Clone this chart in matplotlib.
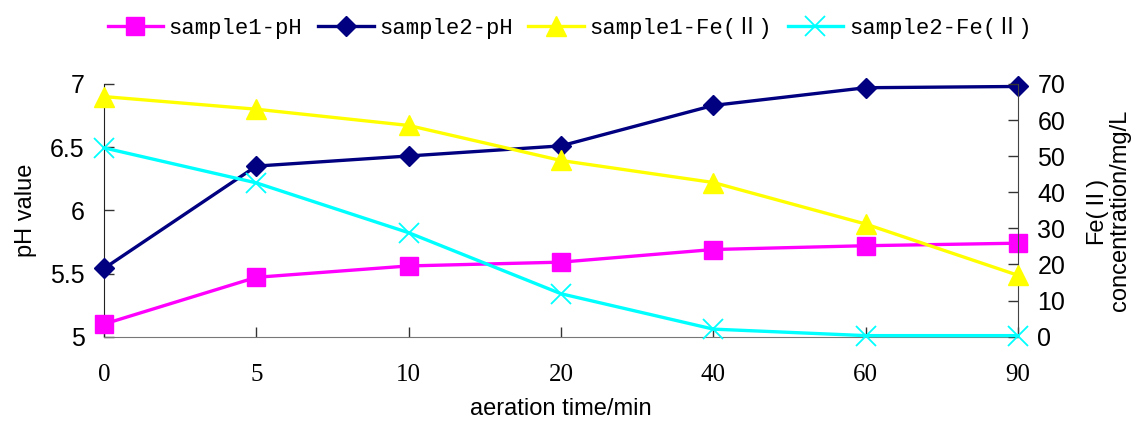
import matplotlib
matplotlib.use("Agg")
import matplotlib.pyplot as plt
from matplotlib.ticker import FuncFormatter

# aeration time (min) - plotted as evenly spaced categories
times = ["0", "5", "10", "20", "40", "60", "90"]

ph_sample1 = [5.10, 5.47, 5.56, 5.59, 5.69, 5.72, 5.74]
ph_sample2 = [5.54, 6.35, 6.43, 6.51, 6.83, 6.97, 6.98]
fe_sample1 = [66.5, 63.0, 58.5, 48.8, 42.7, 31.2, 17.0]
fe_sample2 = [52.3, 42.6, 28.8, 11.9, 2.1, 0.3, 0.3]

plt.rcParams['font.family'] = ['Liberation Sans', 'Noto Sans CJK SC', 'DejaVu Sans']

fig = plt.figure(figsize=(11.39, 4.22), dpi=100)
ax = fig.add_axes([0.0913, 0.2021, 0.8025, 0.599])
ax2 = ax.twinx()

x = list(range(len(times)))
l1, = ax.plot(x, ph_sample1, color='#FF00FF', lw=2.4, marker='s', ms=13.5,
              mec='#FF00FF', label='sample1-pH', clip_on=False, zorder=3)
l2, = ax.plot(x, ph_sample2, color='#000080', lw=2.4, marker='D', ms=10,
              mec='#000080', label='sample2-pH', clip_on=False, zorder=3)
l3, = ax2.plot(x, fe_sample1, color='#FFFF00', lw=2.4, marker='^', ms=15,
               mec='#FFFF00', label='sample1-Fe(Ⅱ)', clip_on=False, zorder=3)
l4, = ax2.plot(x, fe_sample2, color='#00FFFF', lw=2.4, marker='x', ms=15,
               mew=1.3, label='sample2-Fe(Ⅱ)', clip_on=False, zorder=3)

ax.set_xlim(0, len(times) - 1)
ax.set_ylim(5, 7)
ax.set_yticks([5, 5.5, 6, 6.5, 7])
ax.yaxis.set_major_formatter(FuncFormatter(lambda v, p: '%g' % v))
ax2.set_ylim(0, 70)
ax2.set_yticks(range(0, 71, 10))

ax.set_xticks(x)
ax.set_xticklabels(times, family='Liberation Serif', fontsize=18)

for a in (ax, ax2):
    a.spines['top'].set_visible(False)
    a.tick_params(direction='in', length=7, width=1, colors='#333333', labelcolor='black')
ax.tick_params(axis='y', labelsize=18, pad=14)
ax2.tick_params(axis='y', labelsize=18, pad=14)
ax.tick_params(axis='x', pad=20)
ax.spines['left'].set_color('#222222')
ax2.spines['right'].set_color('#444444')
ax.spines['bottom'].set_color('#777777')
ax2.spines['bottom'].set_visible(False)
ax2.spines['left'].set_visible(False)
ax.spines['right'].set_visible(False)

ax.set_ylabel('pH value', fontsize=17, labelpad=9)
ax.set_xlabel('aeration time/min', fontsize=17, labelpad=8)
ax2.set_ylabel('Fe(Ⅱ)\nconcentration/mg/L', fontsize=17, labelpad=14, linespacing=1.1)

fig.legend(handles=[l1, l2, l3, l4], loc='center', bbox_to_anchor=(0.5, 0.933),
           ncol=4, frameon=False, handlelength=2.5, handletextpad=0.25,
           columnspacing=0.7, prop={'family': ['Liberation Mono', 'Noto Sans CJK SC'], 'size': 16})

fig.savefig('out.png', dpi=100)
